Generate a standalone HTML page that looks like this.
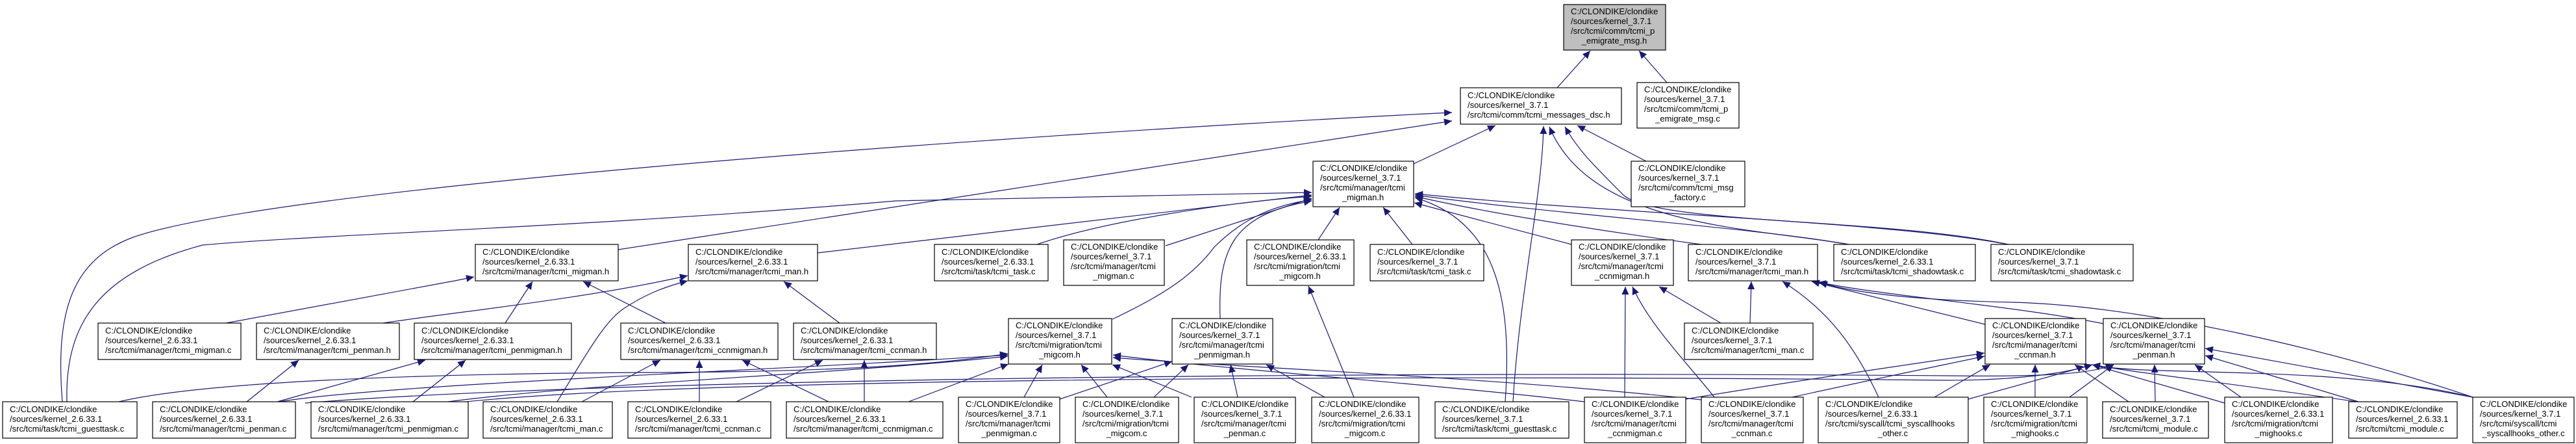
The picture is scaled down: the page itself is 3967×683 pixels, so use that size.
<!DOCTYPE html>
<html><head><meta charset="utf-8"><style>
html,body{margin:0;padding:0;background:#fff;}
svg{display:block;}
text{font-family:"Liberation Sans",Arial,sans-serif;font-size:13px;fill:#000;}
.n{fill:#fff;stroke:#000;stroke-width:1.2;}
.e{fill:none;stroke:#191970;stroke-width:1.2;marker-end:url(#a);}
</style></head><body>
<svg width="3967" height="683" viewBox="0 0 3967 683" xmlns="http://www.w3.org/2000/svg">
<defs><marker id="a" markerUnits="userSpaceOnUse" markerWidth="13" markerHeight="11" refX="12" refY="5.5" orient="auto"><path d="M0,0 L12,5.5 L0,11z" fill="#191970"/></marker></defs>

<!-- edges -->
<path class="e" d="M2398,135 L2449,78"/>
<path class="e" d="M2567,127 L2524,78"/>
<path class="e" d="M2177,252 L2303,193"/>
<path class="e" d="M2535,248 L2429,193"/>
<path class="e" d="M96,618 C85,480 110,400 205,365 C420,290 1500,210 2236,173"/>
<path class="e" d="M952,384 L2236,186"/>
<path class="e" d="M2330,618 C2340,450 2375,300 2377,194"/>
<path class="e" d="M2847,376 C2700,350 2450,350 2386,195"/>
<path class="e" d="M3093,376 C2900,335 2550,345 2500,300 C2450,250 2430,230 2410,195"/>
<path class="e" d="M1259,389 L2020,300"/>
<path class="e" d="M103,618 C100,500 150,420 312,377 C500,360 900,350 1380,309 L2020,296"/>
<path class="e" d="M348,497 L700,432 L730,426"/>
<path class="e" d="M1597,376 C1700,340 1900,310 2020,302"/>
<path class="e" d="M1795,378 L2020,305"/>
<path class="e" d="M1713,491 C1800,450 1840,420 1870,380 C1920,330 1970,315 2020,307"/>
<path class="e" d="M1879,490 C1875,380 1900,330 2020,309"/>
<path class="e" d="M2030,369 L2063,319"/>
<path class="e" d="M2175,376 L2130,319"/>
<path class="e" d="M2420,376 L2178,312"/>
<path class="e" d="M2620,376 C2500,360 2300,330 2179,302"/>
<path class="e" d="M2847,376 C2700,350 2400,330 2179,300"/>
<path class="e" d="M3093,376 C2900,340 2500,330 2179,298"/>
<path class="e" d="M2318,618 C2330,450 2300,340 2179,304"/>

<path class="e" d="M778,497 L820,433"/>
<path class="e" d="M1025,497 L898,433"/>
<path class="e" d="M1293,497 L1207,433"/>
<path class="e" d="M590,497 C700,480 900,460 1059,424"/>
<path class="e" d="M858,618 C900,550 930,495 960,475 C990,455 1020,442 1059,432"/>
<path class="e" d="M380,618 L460,554"/>
<path class="e" d="M427,618 L655,554"/>
<path class="e" d="M636,618 L717,554"/>
<path class="e" d="M896,618 L1017,554"/>
<path class="e" d="M1077,618 L1077,554"/>
<path class="e" d="M1276,618 L1143,554"/>
<path class="e" d="M1134,618 L1267,554"/>
<path class="e" d="M1331,618 L1331,554"/>
<path class="e" d="M183,618 C300,590 600,575 1000,573 C1300,572 1450,560 1552,544"/>
<path class="e" d="M430,618 C600,590 1200,570 1552,546"/>
<path class="e" d="M690,618 C900,590 1300,575 1552,548"/>
<path class="e" d="M1399,618 L1553,560"/>
<path class="e" d="M700,620 C1000,585 2000,575 3000,585 C3100,585 3180,575 3222,561"/>
<path class="e" d="M470,620 C900,585 2000,570 3000,578 C3150,580 3220,575 3255,561"/>

<path class="e" d="M2502,611 L2503,441"/>
<path class="e" d="M2640,611 C2600,560 2540,500 2514,441"/>
<path class="e" d="M2650,497 L2555,441"/>
<path class="e" d="M2695,497 L2697,433"/>
<path class="e" d="M3057,499 L2790,433"/>
<path class="e" d="M3240,498 C3100,470 2900,455 2800,434"/>
<path class="e" d="M3808,611 C3600,540 3300,470 3100,465 C2950,462 2850,450 2802,434"/>
<path class="e" d="M2893,611 C2860,540 2820,480 2745,433"/>
<path class="e" d="M2979,611 L3065,561"/>
<path class="e" d="M3031,614 L3222,561"/>
<path class="e" d="M2596,614 C2800,580 2950,560 3056,543"/>
<path class="e" d="M2760,611 C2900,580 3000,560 3056,548"/>
<path class="e" d="M3134,611 L3134,561"/>
<path class="e" d="M3187,611 L3255,561"/>
<path class="e" d="M3278,618 L3195,561"/>
<path class="e" d="M3319,618 L3318,561"/>
<path class="e" d="M3451,611 L3380,561"/>
<path class="e" d="M3632,618 L3396,547"/>
<path class="e" d="M3808,611 L3396,536"/>
<path class="e" d="M3808,611 C3600,560 3300,580 3222,561"/>
<path class="e" d="M3426,620 L3222,561"/>
<path class="e" d="M3630,618 C3400,585 3300,575 3222,561"/>

<path class="e" d="M1577,611 L1605,561"/>
<path class="e" d="M1632,614 L1805,556"/>
<path class="e" d="M1705,611 L1665,561"/>
<path class="e" d="M1777,611 L1830,561"/>
<path class="e" d="M1835,611 L1713,561"/>
<path class="e" d="M1906,611 L1895,561"/>
<path class="e" d="M2040,611 L1950,561"/>
<path class="e" d="M2085,611 L2015,440"/>
<path class="e" d="M2440,618 C2200,590 1900,570 1714,546"/>
<path class="e" d="M2620,615 C2300,580 1900,565 1714,550"/>

<!-- nodes -->
<rect x="2408" y="7" width="157" height="70" style="fill:#bfbfbf;stroke:#000;stroke-width:1.2"/>
<text x="2419" y="22">C:/CLONDIKE/clondike</text><text x="2419" y="37">/sources/kernel_3.7.1</text><text x="2419" y="52">/src/tcmi/comm/tcmi_p</text><text x="2486" y="67" text-anchor="middle">_emigrate_msg.h</text>

<rect class="n" x="2249" y="135" width="248" height="56"/>
<text x="2260" y="151">C:/CLONDIKE/clondike</text><text x="2260" y="166">/sources/kernel_3.7.1</text><text x="2260" y="181">/src/tcmi/comm/tcmi_messages_dsc.h</text>

<rect class="n" x="2521" y="127" width="157" height="70"/>
<text x="2532" y="142">C:/CLONDIKE/clondike</text><text x="2532" y="157">/sources/kernel_3.7.1</text><text x="2532" y="172">/src/tcmi/comm/tcmi_p</text><text x="2599" y="187" text-anchor="middle">_emigrate_msg.c</text>

<rect class="n" x="2022" y="248" width="155" height="70"/>
<text x="2033" y="263">C:/CLONDIKE/clondike</text><text x="2033" y="278">/sources/kernel_3.7.1</text><text x="2033" y="293">/src/tcmi/manager/tcmi</text><text x="2099" y="308" text-anchor="middle">_migman.h</text>

<rect class="n" x="2512" y="248" width="175" height="70"/>
<text x="2523" y="263">C:/CLONDIKE/clondike</text><text x="2523" y="278">/sources/kernel_3.7.1</text><text x="2523" y="293">/src/tcmi/comm/tcmi_msg</text><text x="2599" y="308" text-anchor="middle">_factory.c</text>

<!-- row3 -->
<rect class="n" x="732" y="376" width="220" height="56"/>
<text x="743" y="392">C:/CLONDIKE/clondike</text><text x="743" y="407">/sources/kernel_2.6.33.1</text><text x="743" y="422">/src/tcmi/manager/tcmi_migman.h</text>
<rect class="n" x="1060" y="376" width="199" height="56"/>
<text x="1071" y="392">C:/CLONDIKE/clondike</text><text x="1071" y="407">/sources/kernel_2.6.33.1</text><text x="1071" y="422">/src/tcmi/manager/tcmi_man.h</text>
<rect class="n" x="1439" y="376" width="175" height="56"/>
<text x="1450" y="392">C:/CLONDIKE/clondike</text><text x="1450" y="407">/sources/kernel_2.6.33.1</text><text x="1450" y="422">/src/tcmi/task/tcmi_task.c</text>
<rect class="n" x="1638" y="369" width="155" height="70"/>
<text x="1649" y="384">C:/CLONDIKE/clondike</text><text x="1649" y="399">/sources/kernel_3.7.1</text><text x="1649" y="414">/src/tcmi/manager/tcmi</text><text x="1715" y="429" text-anchor="middle">_migman.c</text>
<rect class="n" x="1920" y="369" width="165" height="70"/>
<text x="1931" y="384">C:/CLONDIKE/clondike</text><text x="1931" y="399">/sources/kernel_2.6.33.1</text><text x="1931" y="414">/src/tcmi/migration/tcmi</text><text x="2002" y="429" text-anchor="middle">_migcom.h</text>
<rect class="n" x="2110" y="376" width="175" height="56"/>
<text x="2121" y="392">C:/CLONDIKE/clondike</text><text x="2121" y="407">/sources/kernel_3.7.1</text><text x="2121" y="422">/src/tcmi/task/tcmi_task.c</text>
<rect class="n" x="2420" y="369" width="157" height="70"/>
<text x="2431" y="384">C:/CLONDIKE/clondike</text><text x="2431" y="399">/sources/kernel_3.7.1</text><text x="2431" y="414">/src/tcmi/manager/tcmi</text><text x="2498" y="429" text-anchor="middle">_ccnmigman.h</text>
<rect class="n" x="2600" y="376" width="199" height="56"/>
<text x="2611" y="392">C:/CLONDIKE/clondike</text><text x="2611" y="407">/sources/kernel_3.7.1</text><text x="2611" y="422">/src/tcmi/manager/tcmi_man.h</text>
<rect class="n" x="2824" y="376" width="218" height="56"/>
<text x="2835" y="392">C:/CLONDIKE/clondike</text><text x="2835" y="407">/sources/kernel_2.6.33.1</text><text x="2835" y="422">/src/tcmi/task/tcmi_shadowtask.c</text>
<rect class="n" x="3066" y="376" width="219" height="56"/>
<text x="3077" y="392">C:/CLONDIKE/clondike</text><text x="3077" y="407">/sources/kernel_3.7.1</text><text x="3077" y="422">/src/tcmi/task/tcmi_shadowtask.c</text>

<!-- row4 -->
<rect class="n" x="151" y="497" width="220" height="56"/>
<text x="162" y="513">C:/CLONDIKE/clondike</text><text x="162" y="528">/sources/kernel_2.6.33.1</text><text x="162" y="543">/src/tcmi/manager/tcmi_migman.c</text>
<rect class="n" x="395" y="497" width="220" height="56"/>
<text x="406" y="513">C:/CLONDIKE/clondike</text><text x="406" y="528">/sources/kernel_2.6.33.1</text><text x="406" y="543">/src/tcmi/manager/tcmi_penman.h</text>
<rect class="n" x="638" y="497" width="242" height="56"/>
<text x="649" y="513">C:/CLONDIKE/clondike</text><text x="649" y="528">/sources/kernel_2.6.33.1</text><text x="649" y="543">/src/tcmi/manager/tcmi_penmigman.h</text>
<rect class="n" x="956" y="497" width="242" height="56"/>
<text x="967" y="513">C:/CLONDIKE/clondike</text><text x="967" y="528">/sources/kernel_2.6.33.1</text><text x="967" y="543">/src/tcmi/manager/tcmi_ccnmigman.h</text>
<rect class="n" x="1222" y="497" width="220" height="56"/>
<text x="1233" y="513">C:/CLONDIKE/clondike</text><text x="1233" y="528">/sources/kernel_2.6.33.1</text><text x="1233" y="543">/src/tcmi/manager/tcmi_ccnman.h</text>
<rect class="n" x="1553" y="490" width="159" height="70"/>
<text x="1564" y="505">C:/CLONDIKE/clondike</text><text x="1564" y="520">/sources/kernel_3.7.1</text><text x="1564" y="535">/src/tcmi/migration/tcmi</text><text x="1632" y="550" text-anchor="middle">_migcom.h</text>
<rect class="n" x="1805" y="490" width="155" height="70"/>
<text x="1816" y="505">C:/CLONDIKE/clondike</text><text x="1816" y="520">/sources/kernel_3.7.1</text><text x="1816" y="535">/src/tcmi/manager/tcmi</text><text x="1882" y="550" text-anchor="middle">_penmigman.h</text>
<rect class="n" x="2594" y="497" width="198" height="56"/>
<text x="2605" y="513">C:/CLONDIKE/clondike</text><text x="2605" y="528">/sources/kernel_3.7.1</text><text x="2605" y="543">/src/tcmi/manager/tcmi_man.c</text>
<rect class="n" x="3057" y="490" width="155" height="70"/>
<text x="3068" y="505">C:/CLONDIKE/clondike</text><text x="3068" y="520">/sources/kernel_3.7.1</text><text x="3068" y="535">/src/tcmi/manager/tcmi</text><text x="3134" y="550" text-anchor="middle">_ccnman.h</text>
<rect class="n" x="3239" y="490" width="156" height="70"/>
<text x="3250" y="505">C:/CLONDIKE/clondike</text><text x="3250" y="520">/sources/kernel_3.7.1</text><text x="3250" y="535">/src/tcmi/manager/tcmi</text><text x="3317" y="550" text-anchor="middle">_penman.h</text>

<!-- row5 -->
<rect class="n" x="4" y="618" width="207" height="56"/>
<text x="15" y="634">C:/CLONDIKE/clondike</text><text x="15" y="649">/sources/kernel_2.6.33.1</text><text x="15" y="664">/src/tcmi/task/tcmi_guesttask.c</text>
<rect class="n" x="235" y="618" width="220" height="56"/>
<text x="246" y="634">C:/CLONDIKE/clondike</text><text x="246" y="649">/sources/kernel_2.6.33.1</text><text x="246" y="664">/src/tcmi/manager/tcmi_penman.c</text>
<rect class="n" x="479" y="618" width="242" height="56"/>
<text x="490" y="634">C:/CLONDIKE/clondike</text><text x="490" y="649">/sources/kernel_2.6.33.1</text><text x="490" y="664">/src/tcmi/manager/tcmi_penmigman.c</text>
<rect class="n" x="744" y="618" width="199" height="56"/>
<text x="755" y="634">C:/CLONDIKE/clondike</text><text x="755" y="649">/sources/kernel_2.6.33.1</text><text x="755" y="664">/src/tcmi/manager/tcmi_man.c</text>
<rect class="n" x="967" y="618" width="220" height="56"/>
<text x="978" y="634">C:/CLONDIKE/clondike</text><text x="978" y="649">/sources/kernel_2.6.33.1</text><text x="978" y="664">/src/tcmi/manager/tcmi_ccnman.c</text>
<rect class="n" x="1211" y="618" width="241" height="56"/>
<text x="1222" y="634">C:/CLONDIKE/clondike</text><text x="1222" y="649">/sources/kernel_2.6.33.1</text><text x="1222" y="664">/src/tcmi/manager/tcmi_ccnmigman.c</text>
<rect class="n" x="1476" y="611" width="156" height="70"/>
<text x="1487" y="626">C:/CLONDIKE/clondike</text><text x="1487" y="641">/sources/kernel_3.7.1</text><text x="1487" y="656">/src/tcmi/manager/tcmi</text><text x="1554" y="671" text-anchor="middle">_penmigman.c</text>
<rect class="n" x="1656" y="611" width="159" height="70"/>
<text x="1667" y="626">C:/CLONDIKE/clondike</text><text x="1667" y="641">/sources/kernel_3.7.1</text><text x="1667" y="656">/src/tcmi/migration/tcmi</text><text x="1735" y="671" text-anchor="middle">_migcom.c</text>
<rect class="n" x="1839" y="611" width="156" height="70"/>
<text x="1850" y="626">C:/CLONDIKE/clondike</text><text x="1850" y="641">/sources/kernel_3.7.1</text><text x="1850" y="656">/src/tcmi/manager/tcmi</text><text x="1917" y="671" text-anchor="middle">_penman.c</text>
<rect class="n" x="2020" y="611" width="165" height="70"/>
<text x="2031" y="626">C:/CLONDIKE/clondike</text><text x="2031" y="641">/sources/kernel_2.6.33.1</text><text x="2031" y="656">/src/tcmi/migration/tcmi</text><text x="2102" y="671" text-anchor="middle">_migcom.c</text>
<rect class="n" x="2210" y="618" width="206" height="56"/>
<text x="2221" y="634">C:/CLONDIKE/clondike</text><text x="2221" y="649">/sources/kernel_3.7.1</text><text x="2221" y="664">/src/tcmi/task/tcmi_guesttask.c</text>
<rect class="n" x="2440" y="611" width="156" height="70"/>
<text x="2451" y="626">C:/CLONDIKE/clondike</text><text x="2451" y="641">/sources/kernel_3.7.1</text><text x="2451" y="656">/src/tcmi/manager/tcmi</text><text x="2518" y="671" text-anchor="middle">_ccnmigman.c</text>
<rect class="n" x="2620" y="611" width="157" height="70"/>
<text x="2631" y="626">C:/CLONDIKE/clondike</text><text x="2631" y="641">/sources/kernel_3.7.1</text><text x="2631" y="656">/src/tcmi/manager/tcmi</text><text x="2698" y="671" text-anchor="middle">_ccnman.c</text>
<rect class="n" x="2800" y="611" width="231" height="70"/>
<text x="2811" y="626">C:/CLONDIKE/clondike</text><text x="2811" y="641">/sources/kernel_2.6.33.1</text><text x="2811" y="656">/src/tcmi/syscall/tcmi_syscallhooks</text><text x="2915" y="671" text-anchor="middle">_other.c</text>
<rect class="n" x="3055" y="611" width="159" height="70"/>
<text x="3066" y="626">C:/CLONDIKE/clondike</text><text x="3066" y="641">/sources/kernel_3.7.1</text><text x="3066" y="656">/src/tcmi/migration/tcmi</text><text x="3134" y="671" text-anchor="middle">_mighooks.c</text>
<rect class="n" x="3238" y="618" width="163" height="56"/>
<text x="3249" y="634">C:/CLONDIKE/clondike</text><text x="3249" y="649">/sources/kernel_3.7.1</text><text x="3249" y="664">/src/tcmi/tcmi_module.c</text>
<rect class="n" x="3426" y="611" width="166" height="70"/>
<text x="3437" y="626">C:/CLONDIKE/clondike</text><text x="3437" y="641">/sources/kernel_2.6.33.1</text><text x="3437" y="656">/src/tcmi/migration/tcmi</text><text x="3509" y="671" text-anchor="middle">_mighooks.c</text>
<rect class="n" x="3617" y="618" width="167" height="56"/>
<text x="3628" y="634">C:/CLONDIKE/clondike</text><text x="3628" y="649">/sources/kernel_2.6.33.1</text><text x="3628" y="664">/src/tcmi/tcmi_module.c</text>
<rect class="n" x="3808" y="611" width="156" height="70"/>
<text x="3819" y="626">C:/CLONDIKE/clondike</text><text x="3819" y="641">/sources/kernel_3.7.1</text><text x="3819" y="656">/src/tcmi/syscall/tcmi</text><text x="3886" y="671" text-anchor="middle">_syscallhooks_other.c</text>
</svg>
</body></html>
